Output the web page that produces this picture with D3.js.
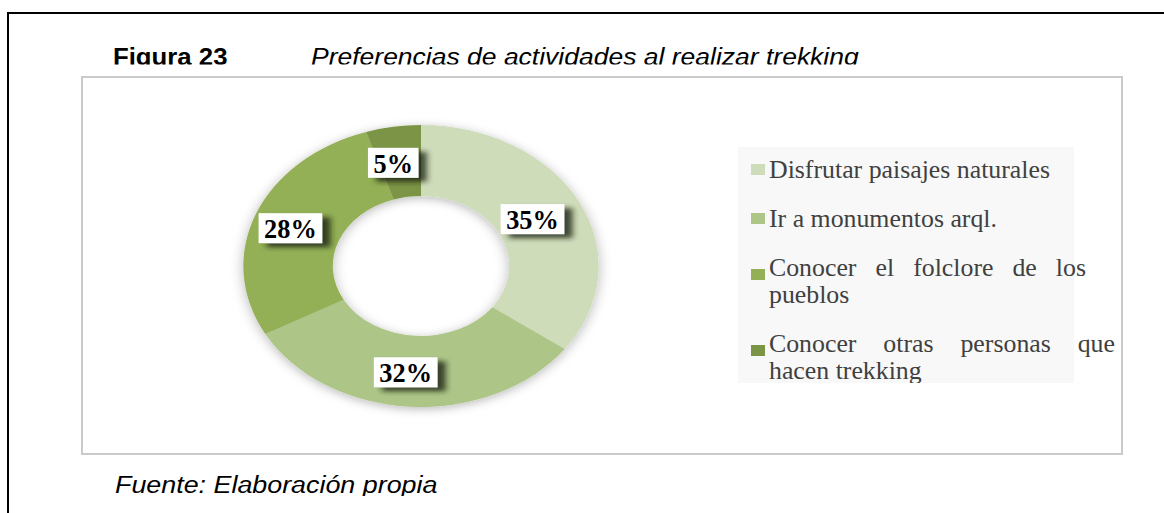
<!DOCTYPE html>
<html>
<head>
<meta charset="utf-8">
<script src="https://cdn.jsdelivr.net/npm/d3@7"></script>
<style>
  body { margin: 0; background: #fff; }
  svg { display: block; }
</style>
</head>
<body>
<div id="chart"></div>
<script>

// data
const categories = ["Disfrutar paisajes naturales", "Ir a monumentos arql.",
    "Conocer el folclore de los pueblos", "Conocer otras personas que hacen trekking"];
const values = [35, 32, 28, 5];
const colors = ["#cfdcba", "#adc688", "#93b057", "#7b9445"];
const titleNumber = "Figura 23";
const titleText = "Preferencias de actividades al realizar trekking";
const sourceText = "Fuente: Elaboración propia";

// the whole picture is stretched horizontally, so draw in a scaled group
const W = 1164, H = 513;
const sx = 1.26;
const X = v => v / sx;   // screen px -> local x

// narrow the glyphs of a text a bit (fonts here are wider than the originals)
function squeeze(sel, k) {
    let w = sel.node().getComputedTextLength();
    sel.attr("textLength", w * k).attr("lengthAdjust", "spacingAndGlyphs");
    return w * k;
}

let svg = d3.select("#chart").append("svg")
    .attr("width", W)
    .attr("height", H);

let defs = svg.append("defs");

// soft shadow around the ring
let ringShadow = defs.append("filter").attr("id", "ringShadow")
    .attr("x", "-20%").attr("y", "-20%").attr("width", "140%").attr("height", "140%");
ringShadow.append("feDropShadow")
    .attr("dx", 0).attr("dy", 2).attr("stdDeviation", 5)
    .attr("flood-color", "#000").attr("flood-opacity", 0.28);

// blurry dark shadow behind the label boxes
let labelShadow = defs.append("filter").attr("id", "labelShadow")
    .attr("x", "-30%").attr("y", "-40%").attr("width", "180%").attr("height", "200%");
labelShadow.append("feDropShadow")
    .attr("dx", 6.5).attr("dy", 4).attr("stdDeviation", 2.5)
    .attr("flood-color", "#1a2410").attr("flood-opacity", 0.8);

defs.append("clipPath").attr("id", "titleClip")
    .append("rect").attr("x", 0).attr("y", 0).attr("width", W).attr("height", 64.5);
defs.append("clipPath").attr("id", "sourceClip")
    .append("rect").attr("x", 0).attr("y", 0).attr("width", W).attr("height", 496);
defs.append("clipPath").attr("id", "legendClip")
    .append("rect").attr("x", 0).attr("y", 0).attr("width", W / sx).attr("height", 383);

let root = svg.append("g").attr("transform", "scale(" + sx + ",1)");

// outer frame (top and left edges)
root.append("path")
    .attr("d", "M" + X(8) + "," + H + " V13 H" + X(W))
    .attr("fill", "none")
    .attr("stroke", "#000")
    .attr("stroke-width", 2)
    .attr("vector-effect", "non-scaling-stroke");

// title
let kSans = 0.87;
let title = root.append("g").attr("clip-path", "url(#titleClip)");
let t1 = title.append("text")
    .attr("x", X(113)).attr("y", 65)
    .attr("font-family", "Liberation Sans, Arial, sans-serif")
    .attr("font-size", 23.5).attr("font-weight", "bold")
    .text(titleNumber);
squeeze(t1, kSans);
let t2 = title.append("text")
    .attr("x", X(311)).attr("y", 65)
    .attr("font-family", "Liberation Sans, Arial, sans-serif")
    .attr("font-size", 23.5).attr("font-style", "italic")
    .text(titleText);
squeeze(t2, 0.895);

// chart area
root.append("rect")
    .attr("x", X(82)).attr("y", 77)
    .attr("width", X(1122 - 82)).attr("height", 454 - 77)
    .attr("fill", "#fff")
    .attr("stroke", "#cacaca")
    .attr("stroke-width", 2)
    .attr("vector-effect", "non-scaling-stroke");

// donut
let outerR = 141, innerR = 70;
let pie = d3.pie().sort(null).value(d => d);
let arcs = pie(values);
let arc = d3.arc().innerRadius(innerR).outerRadius(outerR);

let donut = root.append("g")
    .attr("transform", "translate(" + X(421) + ",266)");

donut.append("g")
    .attr("filter", "url(#ringShadow)")
    .selectAll("path")
    .data(arcs)
    .enter().append("path")
    .attr("d", arc)
    .attr("fill", (d, i) => colors[i]);

// data labels
let labels = donut.selectAll(".dlabel")
    .data(arcs)
    .enter().append("g")
    .attr("class", "dlabel")
    .attr("transform", d => {
        let c = arc.centroid(d);
        return "translate(" + (c[0] - X(7)) + "," + (c[1] + 1) + ")";
    });

labels.append("rect").attr("class", "lbox")
    .attr("fill", "#fff")
    .attr("filter", "url(#labelShadow)");

labels.append("text")
    .attr("text-anchor", "middle")
    .attr("dy", "0.36em")
    .attr("font-family", "Liberation Serif, Cambria, serif")
    .attr("font-weight", "bold")
    .attr("font-size", 27.5)
    .attr("fill", "#000")
    .text(d => d.data + "%");

labels.each(function() {
    let g = d3.select(this);
    let txt = g.select("text");
    let w = squeeze(txt, 0.76);
    let bw = w + X(11), bh = 30;
    g.select("rect")
        .attr("x", -bw / 2).attr("y", -bh / 2)
        .attr("width", bw).attr("height", bh);
});

// legend
let legend = root.append("g");
legend.append("rect")
    .attr("x", X(738)).attr("y", 147)
    .attr("width", X(1074 - 738)).attr("height", 383 - 147)
    .attr("fill", "#f8f8f8");

let legendItems = legend.append("g").attr("clip-path", "url(#legendClip)");
let textX = X(769);
let maxW = X(1090 - 769);
let justifyTo = [null, null, X(1086), X(1115)];
let fontSize = 25;
let kSerif = 0.82;
let lineH = 27;
let baseY = 178;

function legendText(x, y, s) {
    let t = legendItems.append("text")
        .attr("x", x).attr("y", y)
        .attr("font-family", "Liberation Serif, Cambria, serif")
        .attr("font-size", fontSize)
        .attr("fill", "#404040")
        .text(s);
    return t;
}

categories.forEach((cat, i) => {
    // wrap words into lines
    let words = cat.split(" ");
    let measure = legendText(0, -100, "");
    let lines = [], cur = [];
    words.forEach(w => {
        measure.text(cur.concat(w).join(" "));
        if (cur.length && measure.node().getComputedTextLength() * kSerif > maxW) {
            lines.push(cur);
            cur = [w];
        } else {
            cur.push(w);
        }
    });
    lines.push(cur);
    measure.remove();

    legendItems.append("rect")
        .attr("x", X(751))
        .attr("y", baseY - 14 + (lines.length > 1 ? 7 : 0))
        .attr("width", X(14)).attr("height", 11)
        .attr("fill", colors[i]);

    lines.forEach((ln, j) => {
        let y = baseY + j * lineH;
        let target = (j < lines.length - 1) ? justifyTo[i] : null;
        if (target && ln.length > 1) {
            // justified line: spread words over the width
            let ws = ln.map(w => legendText(0, y, w));
            let widths = ws.map(t => squeeze(t, kSerif));
            let gap = (target - textX - d3.sum(widths)) / (ln.length - 1);
            let x = textX;
            ws.forEach((t, k) => {
                t.attr("x", x);
                x += widths[k] + gap;
            });
        } else {
            squeeze(legendText(textX, y, ln.join(" ")), kSerif);
        }
    });
    baseY += 49 + lineH * (lines.length - 1);
});

// source
let src = root.append("g").attr("clip-path", "url(#sourceClip)")
    .append("text")
    .attr("x", X(115)).attr("y", 493)
    .attr("font-family", "Liberation Sans, Arial, sans-serif")
    .attr("font-size", 24.5).attr("font-style", "italic")
    .text(sourceText);
squeeze(src, kSans);

</script>
</body>
</html>
